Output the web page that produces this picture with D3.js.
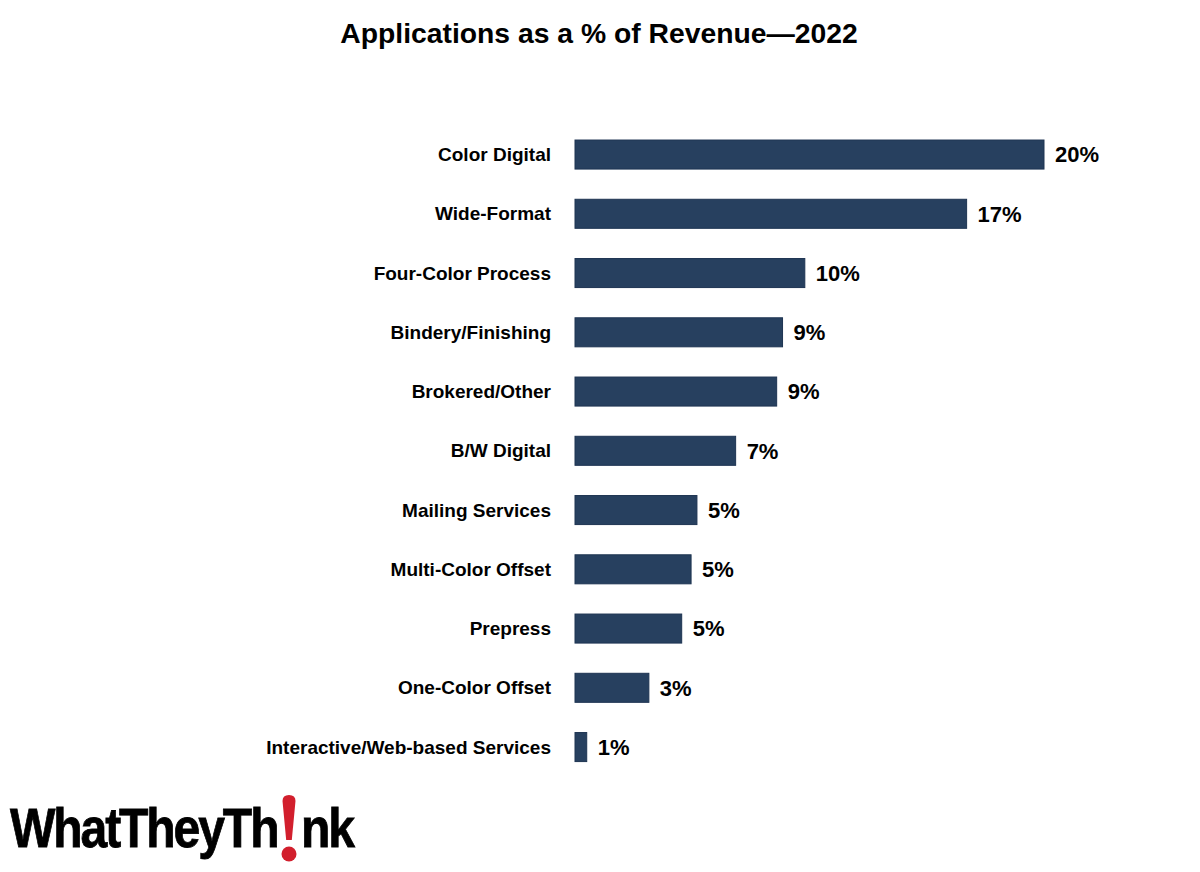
<!DOCTYPE html>
<html><head><meta charset="utf-8">
<script src="https://cdn.jsdelivr.net/npm/d3@7"></script>
<style>html,body{margin:0;padding:0;background:#fff;}svg{display:block;}</style>
</head><body>
<script>
const title = "Applications as a % of Revenue\u20142022";
const categories = ["Color Digital","Wide-Format","Four-Color Process","Bindery/Finishing","Brokered/Other","B/W Digital","Mailing Services","Multi-Color Offset","Prepress","One-Color Offset","Interactive/Web-based Services"];
const values = [20.0, 16.7, 9.8, 8.85, 8.6, 6.85, 5.2, 4.95, 4.55, 3.15, 0.5];
const logoParts = ["WhatTheyTh", "nk"];

const W = 1200, H = 872;
const svg = d3.select("body").append("svg").attr("width", W).attr("height", H);
const font = "'Liberation Sans', Arial, sans-serif";

svg.append("text").attr("x", 599).attr("y", 43).attr("text-anchor", "middle")
  .attr("font-family", font).attr("font-weight", "bold").attr("font-size", 28.3)
  .attr("fill", "#000").text(title);

const x = d3.scaleLinear().domain([0, 20]).range([575, 1044]);
const y = d3.scaleBand().domain(categories).range([110.4, 791.2]).paddingInner(0.51).paddingOuter(0.5);

const data = categories.map((c, i) => ({c, v: values[i]}));

svg.append("g").selectAll("rect").data(data).join("rect")
  .attr("x", x(0)).attr("y", d => y(d.c))
  .attr("width", d => x(d.v) - x(0)).attr("height", y.bandwidth())
  .attr("fill", "#27405f").attr("stroke", "#1e3452").attr("stroke-width", 1);

const yAxis = svg.append("g").attr("transform", "translate(551,0)")
  .call(d3.axisLeft(y).tickSize(0).tickPadding(0));
yAxis.select(".domain").remove();
yAxis.selectAll("text").attr("font-family", font).attr("font-weight", "bold")
  .attr("font-size", 19).attr("fill", "#000").attr("dy", "0.35em");

svg.append("g").selectAll("text").data(data).join("text")
  .attr("x", d => x(d.v) + 11).attr("y", d => y(d.c) + y.bandwidth() / 2)
  .attr("dy", "0.36em").attr("font-family", font).attr("font-weight", "bold")
  .attr("font-size", 22).attr("fill", "#000")
  .text(d => Math.round(d.v) + "%");

// Logo
const logo = svg.append("g");
logo.append("g").attr("transform", "translate(10,847) scale(0.86,1)")
  .append("text").attr("x", 0).attr("y", 0).attr("font-family", font)
  .attr("font-weight", "bold").attr("font-size", 56).attr("letter-spacing", -2.5)
  .attr("fill", "#000").attr("stroke", "#000").attr("stroke-width", 0.8).text(logoParts[0]);
logo.append("g").attr("transform", "translate(301,847) scale(0.86,1)")
  .append("text").attr("x", 0).attr("y", 0).attr("font-family", font)
  .attr("font-weight", "bold").attr("font-size", 56).attr("letter-spacing", -2.5)
  .attr("fill", "#000").attr("stroke", "#000").attr("stroke-width", 0.8).text(logoParts[1]);
logo.append("path").attr("d", "M282.5,801 Q282.5,795 289,795 Q295.5,795 295.5,801 L291.8,840 L286.2,840 Z").attr("fill", "#d21f2d");
logo.append("circle").attr("cx", 289).attr("cy", 854).attr("r", 7.5).attr("fill", "#d21f2d");
</script>
</body></html>
